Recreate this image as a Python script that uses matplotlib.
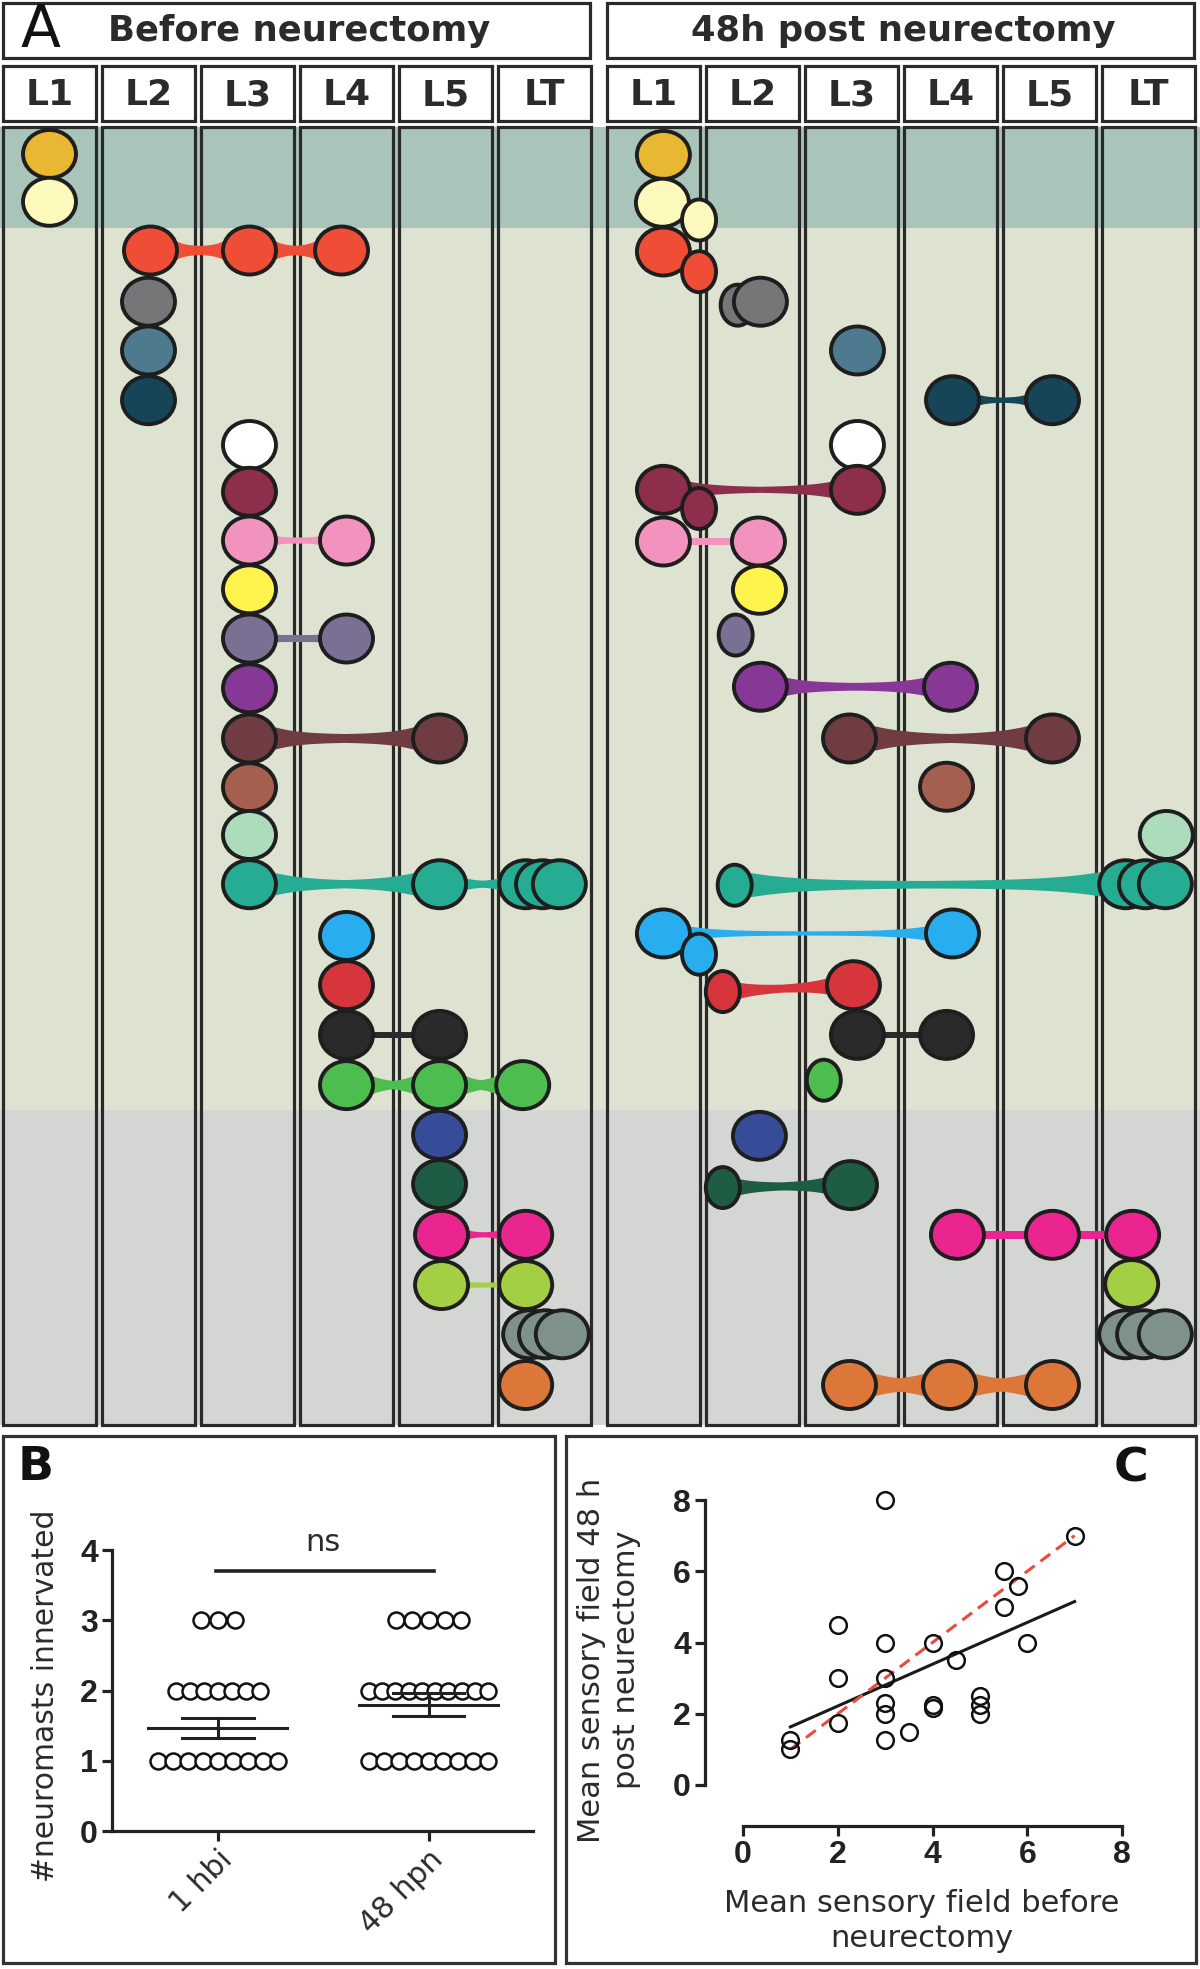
import numpy as np
import matplotlib
matplotlib.use('Agg')
import matplotlib.pyplot as plt
from matplotlib.patches import Ellipse, Rectangle, Polygon
from matplotlib.transforms import blended_transform_factory

# ======================= DATA =======================
columns = ['L1', 'L2', 'L3', 'L4', 'L5', 'LT']
panel_titles = ['Before neurectomy', '48h post neurectomy']

# neuromast colours (one per neuromast id, top to bottom)
nm_colors = ['#e9b832', '#fdf8bb', '#f04d36', '#767679', '#4e7a8f', '#164558',
             '#ffffff', '#8d2e4b', '#f293bf', '#fff44d', '#7a7094', '#873896',
             '#6f3c42', '#a55f4e', '#addcbd', '#26ac93', '#28aeee', '#d6353c',
             '#2a2a2a', '#4ebd50', '#374c99', '#1e5d44', '#eb258f', '#a4ce43',
             '#7e918b', '#dc7639']

# ---- before neurectomy: neuromast id, column position (L1=0 .. LT=5), row ----
before_id = [0, 1, 2, 2, 2, 3, 4, 5, 6, 7, 8, 8, 9, 10, 10, 11, 12, 12, 13, 14,
             15, 15, 15, 15, 15, 16, 17, 18, 18, 19, 19, 19, 20, 21, 22, 22,
             23, 23, 24, 24, 24, 25]
before_col = [0.00, 0.00, 1.02, 2.02, 2.95, 1.00, 1.00, 1.00, 2.02, 2.02, 2.02,
              3.00, 2.02, 2.02, 3.00, 2.02, 2.02, 3.94, 2.02, 2.02, 2.02, 3.94,
              4.81, 4.98, 5.15, 3.00, 3.00, 3.00, 3.94, 3.00, 3.94, 4.78, 3.94,
              3.94, 3.96, 4.81, 3.96, 4.81, 4.85, 5.01, 5.18, 4.81]
before_row = [0.00, 0.97, 1.96, 1.96, 1.96, 3.00, 3.99, 5.00, 5.91, 6.86, 7.85,
              7.85, 8.84, 9.84, 9.84, 10.85, 11.87, 11.87, 12.86, 13.83, 14.83,
              14.83, 14.83, 14.83, 14.83, 15.88, 16.88, 17.89, 17.89, 18.91,
              18.91, 18.91, 19.92, 20.92, 21.95, 21.95, 22.97, 22.97, 23.97,
              23.97, 23.97, 25.00]
before_small = [0] * 42
before_links = [(2, 3), (3, 4), (10, 11), (13, 14), (16, 17), (20, 21), (21, 22),
                (27, 28), (29, 30), (30, 31), (34, 35), (36, 37)]

# ---- 48 h post neurectomy ----
after_id = [0, 1, 1, 2, 2, 3, 3, 4, 5, 5, 6, 7, 7, 7, 8, 8, 9, 10, 11, 11, 12,
            12, 13, 14, 15, 15, 15, 15, 16, 16, 16, 17, 17, 18, 18, 19, 20, 21,
            21, 22, 22, 22, 23, 24, 24, 24, 25, 25, 25]
after_col = [0.10, 0.09, 0.46, 0.10, 0.46, 0.85, 1.08, 2.06, 3.02, 4.03, 2.06,
             0.10, 0.46, 2.06, 0.10, 1.06, 1.07, 0.83, 1.08, 3.00, 1.98, 4.03,
             2.96, 5.18, 0.82, 4.77, 4.97, 5.17, 0.10, 0.46, 3.02, 0.70, 2.02,
             2.06, 2.96, 1.72, 1.07, 0.70, 1.99, 3.07, 4.03, 4.84, 4.83, 4.77,
             4.95, 5.17, 1.98, 2.99, 4.03]
after_row = [0.02, 0.99, 1.34, 1.98, 2.39, 3.07, 3.00, 3.99, 5.00, 5.00, 5.91,
             6.82, 7.20, 6.82, 7.87, 7.87, 8.85, 9.77, 10.82, 10.82, 11.87,
             11.87, 12.85, 13.83, 14.85, 14.83, 14.83, 14.83, 15.83, 16.25,
             15.83, 17.01, 16.88, 17.89, 17.89, 18.81, 19.94, 20.99, 20.94,
             21.95, 21.95, 21.95, 22.95, 23.97, 23.97, 23.97, 25.00, 25.00, 25.00]
after_small = [0, 0, 1, 0, 1, 1, 0, 0, 0, 0, 0, 0, 1, 0, 0, 0, 0, 1, 0, 0, 0, 0,
               0, 0, 1, 0, 0, 0, 0, 1, 0, 1, 0, 0, 0, 1, 0, 1, 0, 0, 0, 0, 0, 0,
               0, 0, 0, 0, 0]
after_links = [(8, 9), (11, 13), (14, 15), (18, 19), (20, 21), (24, 25), (28, 30),
               (31, 32), (33, 34), (37, 38), (39, 40), (40, 41), (46, 47), (47, 48)]

# ---- panel B ----
b_groups = ['1 hbi', '48 hpn']
b_levels = [1, 2, 3]
b_counts_hbi = [9, 7, 3]
b_counts_hpn = [9, 10, 5]
b_mean = [1.47, 1.80]
b_sem = [0.14, 0.16]

# ---- panel C ----
c_before = [3, 7, 5.5, 5.8, 5.5, 2, 3, 4, 6, 4.5, 2, 3, 3, 3, 4, 4, 5, 5, 5, 2,
            3.5, 3, 1, 1]
c_after = [8, 7, 6, 5.6, 5, 4.5, 4, 4, 4, 3.5, 3, 3, 2.3, 2, 2.25, 2.15, 2.5,
           2.25, 2, 1.75, 1.5, 1.25, 1.25, 1]
c_fit_x = [1, 7]
c_fit_y = [1.63, 5.15]
c_identity = [1, 7]

# ======================= STYLE / LAYOUT =======================
W, H, DPI = 1200, 1969, 100
EDGE = '#1e1e1e'
BOX = '#2a2a2a'
TXT = '#2b2b2b'
band_colors = ['#a9c5b9', '#dde2d1', '#d3d6d3']
# bridge shapes per link: (half width in middle, half width at circle, decay) px
before_bridge = [(4, 9, 10), (4, 9, 10), (3, 5, 5), (3.5, 4, 3), (4, 11, 25),
                 (3, 11, 35), (3, 6, 10), (3, 3, 1), (2.5, 9, 15), (2.5, 9, 15),
                 (2.5, 5, 5), (2.5, 3, 3)]
after_bridge = [(2.5, 5.5, 8), (2.5, 8, 30), (3.5, 3.5, 1), (3.5, 9, 25),
                (3.5, 12, 35), (3.5, 12, 50), (2, 7, 30), (3.5, 8, 20), (3, 3, 1),
                (3.5, 8, 20), (4, 4, 1), (4, 4, 1), (4, 11, 25), (4, 11, 25)]
tick_font = ['Liberation Sans', 'DejaVu Sans']

fig = plt.figure(figsize=(W / DPI, H / DPI), dpi=DPI)
fig.patch.set_facecolor('white')


def fig_rect(x0, y0, x1, y1):
    return [x0 / W, 1 - y1 / H, (x1 - x0) / W, (y1 - y0) / H]


# ----- overlay axes in pixel coordinates for boxes / panel frames -----
ov = fig.add_axes([0, 0, 1, 1], zorder=0)
ov.set_xlim(0, W)
ov.set_ylim(H, 0)
ov.axis('off')

# ----- panel A body -----
PITCH = 99.0
OFF_R = 604 / PITCH
body_top, body_bot = 127, 1425
ROW0, ROWH = 154, 49.24
axA = fig.add_axes(fig_rect(0, body_top, W, body_bot), zorder=1)
axA.set_xlim((0 - 49.5) / PITCH, (W - 49.5) / PITCH)
axA.set_ylim((body_bot - ROW0) / ROWH, (body_top - ROW0) / ROWH)
axA.axis('off')
fig.canvas.draw()

band_edges = [axA.get_ylim()[1], 1.5, 19.42, axA.get_ylim()[0]]
for i in range(3):
    axA.axhspan(band_edges[i], band_edges[i + 1], color=band_colors[i], lw=0, zorder=0)

bt = blended_transform_factory(axA.transData, axA.transAxes)
for side in range(2):
    for k in range(len(columns)):
        axA.add_patch(Rectangle((k + side * OFF_R - 0.47, 0), 0.94, 1, transform=bt,
                                fill=False, ec=BOX, lw=2.3, zorder=1, clip_on=False))

BIG_PX = (53, 48)
SMALL_PX = (34, 41)
BIG = (BIG_PX[0] / PITCH, BIG_PX[1] / ROWH)
SMALL = (SMALL_PX[0] / PITCH, SMALL_PX[1] / ROWH)
RX = {0: BIG_PX[0] / 2, 1: SMALL_PX[0] / 2}


def draw_bridge(ax, x1, y1, x2, y2, rx1, rx2, hmid, hend, lam, color):
    T = ax.transData
    p1 = T.transform((x1, y1))
    p2 = T.transform((x2, y2))
    v = p2 - p1
    L = np.hypot(*v)
    u = v / L
    n = np.array([-u[1], u[0]])
    s = np.linspace(0, L, 300)
    d1 = np.clip(s - rx1, 0, None)
    d2 = np.clip(L - s - rx2, 0, None)
    f = np.maximum(np.exp(-d1 / lam), np.exp(-d2 / lam))
    h = hmid + (hend - hmid) * f
    base = p1 + np.outer(s, u)
    pts = np.vstack([base + np.outer(h, n), (base - np.outer(h, n))[::-1]])
    data = T.inverted().transform(pts)
    ax.add_patch(Polygon(data, closed=True, fc=color, ec='none', zorder=2))


def draw_side(ids, cols, rows, small, links, bridges, off):
    for (a, b), (hm, he, lam) in zip(links, bridges):
        draw_bridge(axA, cols[a] + off, rows[a], cols[b] + off, rows[b],
                    RX[small[a]], RX[small[b]], hm, he, lam, nm_colors[ids[a]])
    for i in range(len(ids)):
        w, h = SMALL if small[i] else BIG
        axA.add_patch(Ellipse((cols[i] + off, rows[i]), w, h, fc=nm_colors[ids[i]],
                              ec=EDGE, lw=2.8, zorder=3 + i * 0.01, clip_on=False))


draw_side(before_id, before_col, before_row, before_small, before_links, before_bridge, 0)
draw_side(after_id, after_col, after_row, after_small, after_links, after_bridge, OFF_R)

# ----- headers -----
for side in range(2):
    x0 = 3 + 604 * side
    ov.add_patch(Rectangle((x0, 3), 587, 55, fill=False, ec=BOX, lw=2.3))
    for k, lab in enumerate(columns):
        cx = x0 + PITCH * k
        ov.add_patch(Rectangle((cx, 66), 93, 55, fill=False, ec=BOX, lw=2.3))
        ov.text(cx + 46.5, 95, lab, ha='center', va='center', fontsize=26,
                fontweight='bold', color=TXT)
ov.text(299, 31, panel_titles[0], ha='center', va='center', fontsize=25.5,
        fontweight='bold', color=TXT)
ov.text(903, 31, panel_titles[1], ha='center', va='center', fontsize=25.5,
        fontweight='bold', color=TXT)
ov.text(40, 30, 'A', ha='center', va='center', fontsize=42, color='#111111')

# ----- panel frames -----
ov.add_patch(Rectangle((3, 1436), 552, 527, fill=False, ec='#333333', lw=2.3))
ov.add_patch(Rectangle((566, 1436), 630, 527, fill=False, ec='#333333', lw=2.3))
ov.text(36, 1467, 'B', ha='center', va='center', fontsize=34, fontweight='bold',
        color='#111111')
ov.text(1131, 1469, 'C', ha='center', va='center', fontsize=34, fontweight='bold',
        color='#111111')

# ----- panel B -----
axB = fig.add_axes(fig_rect(112, 1550, 533, 1831), zorder=2)
axB.set_xlim(-0.503, 1.496)
axB.set_ylim(0, 4)
axB.patch.set_alpha(0)
for sp in ['top', 'right']:
    axB.spines[sp].set_visible(False)
for sp in ['left', 'bottom']:
    axB.spines[sp].set_linewidth(2.3)
    axB.spines[sp].set_color('#222222')
axB.set_yticks([0, 1, 2, 3, 4])
axB.set_xticks([0, 1])
axB.tick_params(direction='out', length=7, width=2.3, color='#222222', pad=3)
for t in axB.get_yticklabels():
    t.set_family(tick_font)
    t.set_fontweight('bold')
    t.set_fontsize(23)
    t.set_color('#222222')
axB.set_xticklabels(b_groups, rotation=45, ha='right', va='top',
                    rotation_mode='anchor', fontsize=21.5, color=TXT)
spacing_B = [[0.071, 0.067, 0.08], [0.071, 0.063, 0.078]]
for g, counts in enumerate([b_counts_hbi, b_counts_hpn]):
    for j, (lev, n) in enumerate(zip(b_levels, counts)):
        xs = g + spacing_B[g][j] * (np.arange(n) - (n - 1) / 2)
        axB.plot(xs, [lev] * n, 'o', ms=11.5, mfc='white', mec='#111111', mew=1.8,
                 clip_on=False, zorder=3)
    m, se = b_mean[g], b_sem[g]
    axB.plot([g - 0.33, g + 0.33], [m, m], color='#222222', lw=2.2, zorder=4)
    axB.plot([g, g], [m - se, m + se], color='#222222', lw=2.2, zorder=4)
    for yy in (m - se, m + se):
        axB.plot([g - 0.17, g + 0.17], [yy, yy], color='#222222', lw=2.2, zorder=4)
axB.plot([-0.01, 1.026], [3.7, 3.7], color='#222222', lw=2.6, clip_on=False)
axB.text(0.5, 4.1, 'ns', ha='center', va='center', fontsize=22, color=TXT)
ov.text(46, 1696, '#neuromasts innervated', rotation=90, ha='center', va='center',
        fontsize=21.5, color=TXT)

# ----- panel C -----
axC = fig.add_axes(fig_rect(743, 1500, 1122, 1785), zorder=2)
axC.set_xlim(0, 8)
axC.set_ylim(0, 8)
axC.patch.set_alpha(0)
for sp in ['top', 'right']:
    axC.spines[sp].set_visible(False)
axC.spines['left'].set_position(('outward', 38 * 72 / DPI))
axC.spines['bottom'].set_position(('outward', 41 * 72 / DPI))
for sp in ['left', 'bottom']:
    axC.spines[sp].set_linewidth(2.3)
    axC.spines[sp].set_color('#222222')
axC.set_xticks([0, 2, 4, 6, 8])
axC.set_yticks([0, 2, 4, 6, 8])
axC.tick_params(direction='out', length=7, width=2.3, color='#222222', pad=3)
for t in axC.get_yticklabels() + axC.get_xticklabels():
    t.set_family(tick_font)
    t.set_fontweight('bold')
    t.set_fontsize(23)
    t.set_color('#222222')
axC.plot(c_fit_x, c_fit_y, color='#1a1a1a', lw=2.2, zorder=2)
axC.plot(c_identity, c_identity, color='#e84a3c', lw=2.2, dashes=(4, 2.4), zorder=3)
axC.plot(c_before, c_after, 'o', ms=12, mfc='none', mec='#111111', mew=1.8,
         zorder=4, clip_on=False)
ov.text(609, 1660, 'Mean sensory field 48 h\npost neurectomy', rotation=90,
        ha='center', va='center', fontsize=22, color=TXT, linespacing=1.28,
        multialignment='center')
ov.text(922, 1921, 'Mean sensory field before\nneurectomy', ha='center', va='center',
        fontsize=22, color=TXT, linespacing=1.28, multialignment='center')

fig.savefig('out.png', dpi=DPI, facecolor='white')
